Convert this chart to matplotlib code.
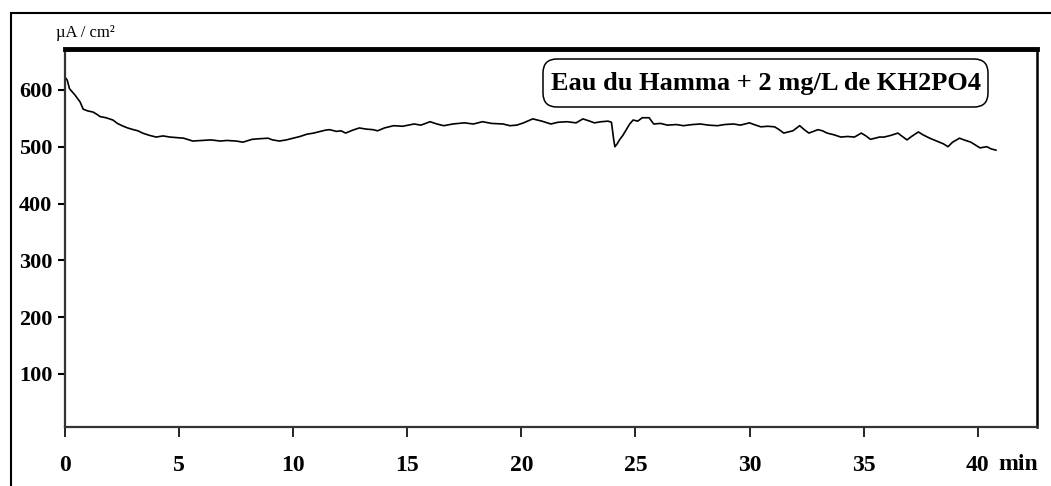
import matplotlib
matplotlib.use("Agg")
import matplotlib.pyplot as plt
from matplotlib.patches import Rectangle, FancyBboxPatch

# temps (min) et densité de courant (µA/cm²)
temps = [0.05, 0.1, 0.2, 0.44, 0.66, 0.8, 1.0, 1.23, 1.4, 1.54, 1.8, 2.1, 2.3, 2.5, 2.75,
         3.0, 3.2, 3.4, 3.7, 4.0, 4.3, 4.6, 4.9, 5.2, 5.6, 6.0, 6.4, 6.8, 7.1, 7.5,
         7.8, 8.2, 8.5, 8.9, 9.1, 9.4, 9.7, 10.0, 10.3, 10.6, 10.9, 11.1, 11.4, 11.6, 11.9,
         12.1, 12.3, 12.6, 12.9, 13.2, 13.5, 13.7, 14.0, 14.4, 14.8, 15.3, 15.6, 16.0, 16.3,
         16.6, 17.0, 17.5, 17.9, 18.3, 18.7, 19.2, 19.5, 19.8, 20.1, 20.5, 20.9, 21.3, 21.6,
         22.0, 22.4, 22.7, 23.0, 23.2, 23.5, 23.8, 23.95, 24.05, 24.1, 24.2, 24.3, 24.45,
         24.6, 24.75, 24.9, 25.1, 25.3, 25.6, 25.8, 26.1, 26.4, 26.8, 27.1, 27.5, 27.85,
         28.2, 28.6, 28.9, 29.3, 29.6, 30.0, 30.2, 30.5, 30.8, 31.1, 31.3, 31.5, 31.7, 31.9,
         32.2, 32.4, 32.6, 32.8, 33.0, 33.2, 33.4, 33.7, 34.0, 34.3, 34.6, 34.9, 35.1, 35.3,
         35.5, 35.7, 35.9, 36.2, 36.5, 36.7, 36.9, 37.1, 37.4, 37.6, 37.9, 38.2, 38.5, 38.7,
         38.9, 39.2, 39.4, 39.7, 39.9, 40.1, 40.4, 40.6, 40.8]
courant = [620, 617, 602, 591, 579, 566, 563, 561, 557, 553, 551, 547, 541, 537, 533,
           530, 528, 524, 520, 517, 519, 517, 516, 515, 510, 511, 512, 510, 511, 510,
           508, 513, 514, 515, 512, 510, 512, 515, 518, 522, 524, 526, 529, 530, 527,
           528, 524, 529, 533, 531, 530, 528, 533, 537, 536, 540, 538, 544, 540,
           537, 540, 542, 540, 544, 541, 540, 537, 538, 542, 549, 545, 540, 543,
           544, 542, 549, 545, 542, 544, 545, 543, 512, 500, 505, 512, 520,
           530, 540, 547, 545, 551, 551, 540, 541, 538, 539, 537, 539, 540,
           538, 537, 539, 540, 538, 542, 539, 535, 536, 535, 530, 524, 526, 528,
           537, 530, 524, 527, 530, 528, 524, 521, 517, 518, 517, 524, 519, 513,
           515, 517, 517, 520, 524, 518, 512, 518, 526, 521, 515, 510, 505, 500,
           508, 515, 512, 508, 503, 498, 500, 496, 494]

xticks = [0, 5, 10, 15, 20, 25, 30, 35, 40]
yticks = [100, 200, 300, 400, 500, 600]

fig = plt.figure(figsize=(10.51, 4.86), dpi=100)
ax = fig.add_axes([0.0618, 0.1214, 0.9249, 0.7778])

ax.plot(temps, courant, color="black", lw=1.2)

ax.set_xlim(0, 42.6)
ax.set_ylim(6.7, 672)

serif = "Liberation Serif"
ax.set_xticks(xticks)
ax.set_yticks(yticks)
ax.set_xticklabels([str(v) for v in xticks], fontfamily=serif, fontsize=17, fontweight="bold")
ax.set_yticklabels([str(v) for v in yticks], fontfamily=serif, fontsize=16, fontweight="bold")
ax.tick_params(axis="x", direction="out", length=7, width=1.2, pad=13)
ax.tick_params(axis="y", direction="out", length=5, width=1.5, pad=4)

ax.spines["top"].set_linewidth(3.5)
ax.spines["right"].set_linewidth(1.8)
ax.spines["left"].set_linewidth(1.6)
ax.spines["left"].set_color("#333333")
ax.spines["bottom"].set_linewidth(1.6)
ax.spines["bottom"].set_color("#333333")

# unités
fig.text(56 / 1051, 1 - 33 / 486, "µA / cm²", fontfamily=serif, fontsize=12,
         ha="left", va="center")
fig.text(1018 / 1051, 1 - 464 / 486, "min", fontfamily=serif, fontsize=17,
         fontweight="bold", ha="center", va="center")

# encadré de légende arrondi
box = FancyBboxPatch((5.43, 3.79), 4.45, 0.48, boxstyle="round,pad=0,rounding_size=0.14",
                     transform=fig.dpi_scale_trans, fc="white", ec="black", lw=1.1)
fig.patches.append(box)
fig.text(7.655 / 10.51, 4.03 / 4.86, "Eau du Hamma + 2 mg/L de KH2PO4", fontfamily=serif,
         fontsize=19, fontweight="bold", ha="center", va="center")

# cadre extérieur
cadre = Rectangle((11 / 1051, -0.05), 1.2, 1 - 13 / 486 + 0.05, transform=fig.transFigure,
                  fill=False, ec="black", lw=1.5)
fig.patches.append(cadre)

fig.savefig("out.png", dpi=100)
